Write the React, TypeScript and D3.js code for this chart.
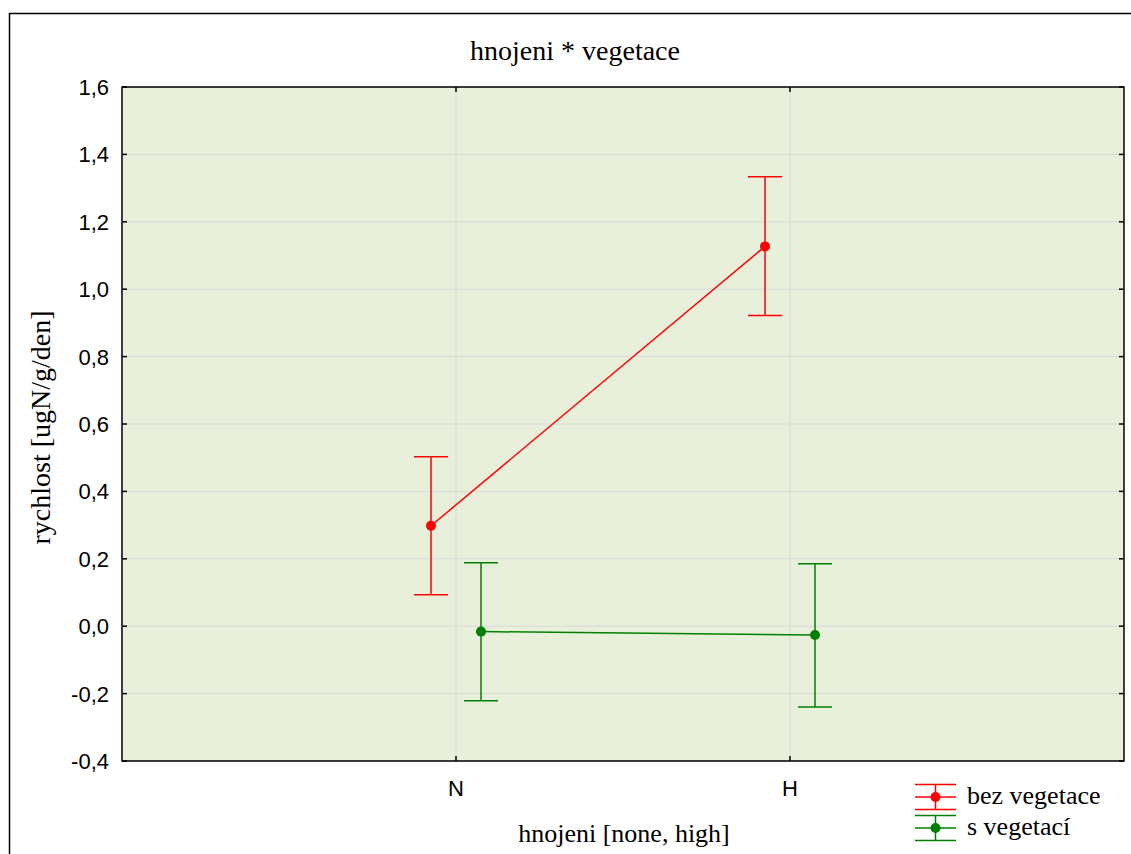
import React from 'react';
import * as d3 from 'd3';

// categories and series
const categories = ['N', 'H'];
const seriesNames = ['bez vegetace', 's vegetací'];
const seriesColors = ['#ff0000', '#008000'];
const meansBez = [0.298, 1.127];
const upperBez = [0.503, 1.334];
const lowerBez = [0.093, 0.922];
const meansVeg = [-0.016, -0.026];
const upperVeg = [0.188, 0.185];
const lowerVeg = [-0.221, -0.240];
const yTicks = [-0.4, -0.2, 0.0, 0.2, 0.4, 0.6, 0.8, 1.0, 1.2, 1.4, 1.6];

const series = [
    { name: seriesNames[0], color: seriesColors[0], mean: meansBez, hi: upperBez, lo: lowerBez, offset: -25 },
    { name: seriesNames[1], color: seriesColors[1], mean: meansVeg, hi: upperVeg, lo: lowerVeg, offset: 25 },
];

function App() {
    const W = 1131;
    const H = 854;
    const plot = { left: 122, top: 87, right: 1124, bottom: 761 };

    const xScale = d3.scalePoint().domain(categories).range([plot.left, plot.right]).padding(1);
    const yScale = d3.scaleLinear().domain([-0.4, 1.6]).range([plot.bottom, plot.top]);
    const fmt = (v) => d3.format('.1f')(v).replace('.', ',').replace('−', '-');

    const capW = 17;
    const sans = 'Liberation Sans, Arial, sans-serif';
    const serif = 'Liberation Serif, Times New Roman, serif';

    return (
        <svg width={W} height={H} style={{ position: 'absolute', left: 0, top: 0 }}>
            <rect x={0} y={0} width={W} height={H} fill="white" />
            {/* outer frame */}
            <path d={`M9.5,${H} V13.5 H${W}`} fill="none" stroke="#000" strokeWidth={1.5} />

            <text x={575} y={60} textAnchor="middle" fontFamily={serif} fontSize={28}>hnojeni * vegetace</text>

            <rect x={plot.left} y={plot.top} width={plot.right - plot.left} height={plot.bottom - plot.top} fill="#e8f0dc" />

            {/* grid */}
            {yTicks.map(t => (
                <line key={'g' + t} x1={plot.left} x2={plot.right} y1={yScale(t)} y2={yScale(t)} stroke="#d8d8d8" strokeWidth={1} />
            ))}
            {categories.map(c => (
                <line key={'gx' + c} x1={xScale(c)} x2={xScale(c)} y1={plot.top} y2={plot.bottom} stroke="#d8d8d8" strokeWidth={1} />
            ))}

            <rect x={plot.left} y={plot.top} width={plot.right - plot.left} height={plot.bottom - plot.top} fill="none" stroke="#000" strokeWidth={1.5} />

            {/* y ticks */}
            {yTicks.map(t => (
                <g key={'t' + t}>
                    <line x1={plot.left} x2={plot.left + 5} y1={yScale(t)} y2={yScale(t)} stroke="#000" strokeWidth={1.5} />
                    <line x1={plot.right} x2={plot.right - 5} y1={yScale(t)} y2={yScale(t)} stroke="#000" strokeWidth={1.5} />
                    <text x={109} y={yScale(t) + 8} textAnchor="end" fontFamily={sans} fontSize={22}>{fmt(t)}</text>
                </g>
            ))}
            {/* x ticks */}
            {categories.map(c => (
                <g key={'xt' + c}>
                    <line x1={xScale(c)} x2={xScale(c)} y1={plot.bottom} y2={plot.bottom - 5} stroke="#000" strokeWidth={1.5} />
                    <line x1={xScale(c)} x2={xScale(c)} y1={plot.top} y2={plot.top + 5} stroke="#000" strokeWidth={1.5} />
                    <text x={xScale(c)} y={796} textAnchor="middle" fontFamily={sans} fontSize={22}>{c}</text>
                </g>
            ))}

            <text x={624} y={842} textAnchor="middle" fontFamily={serif} fontSize={26}>hnojeni [none, high]</text>
            <text transform={`translate(50, ${(310 + 545) / 2}) rotate(-90)`} textAnchor="middle" fontFamily={serif} fontSize={28}>rychlost [ugN/g/den]</text>

            {/* series */}
            {series.map(s => {
                const line = d3.line()
                    .x((d, i) => xScale(categories[i]) + s.offset)
                    .y(d => yScale(d));
                return (
                    <g key={s.name}>
                        <path d={line(s.mean)} fill="none" stroke={s.color} strokeWidth={1.5} />
                        {categories.map((c, i) => {
                            const x = xScale(c) + s.offset;
                            return (
                                <g key={c}>
                                    <line x1={x} x2={x} y1={yScale(s.hi[i])} y2={yScale(s.lo[i])} stroke={s.color} strokeWidth={1.5} />
                                    <line x1={x - capW} x2={x + capW} y1={yScale(s.hi[i])} y2={yScale(s.hi[i])} stroke={s.color} strokeWidth={1.5} />
                                    <line x1={x - capW} x2={x + capW} y1={yScale(s.lo[i])} y2={yScale(s.lo[i])} stroke={s.color} strokeWidth={1.5} />
                                    <circle cx={x} cy={yScale(s.mean[i])} r={5} fill={s.color} />
                                </g>
                            );
                        })}
                    </g>
                );
            })}

            {/* legend */}
            {series.map((s, i) => {
                const cy = 797 + i * 31;
                return (
                    <g key={'lg' + s.name}>
                        <line x1={915} x2={956} y1={cy - 12.5} y2={cy - 12.5} stroke={s.color} strokeWidth={1.5} />
                        <line x1={915} x2={956} y1={cy} y2={cy} stroke={s.color} strokeWidth={1.5} />
                        <line x1={915} x2={956} y1={cy + 12.5} y2={cy + 12.5} stroke={s.color} strokeWidth={1.5} />
                        <line x1={935.5} x2={935.5} y1={cy - 12.5} y2={cy + 12.5} stroke={s.color} strokeWidth={1.5} />
                        <circle cx={935.5} cy={cy} r={5} fill={s.color} />
                        <text x={967} y={cy + 7} fontFamily={serif} fontSize={26}>{s.name}</text>
                    </g>
                );
            })}
        </svg>
    );
}

export default App;
